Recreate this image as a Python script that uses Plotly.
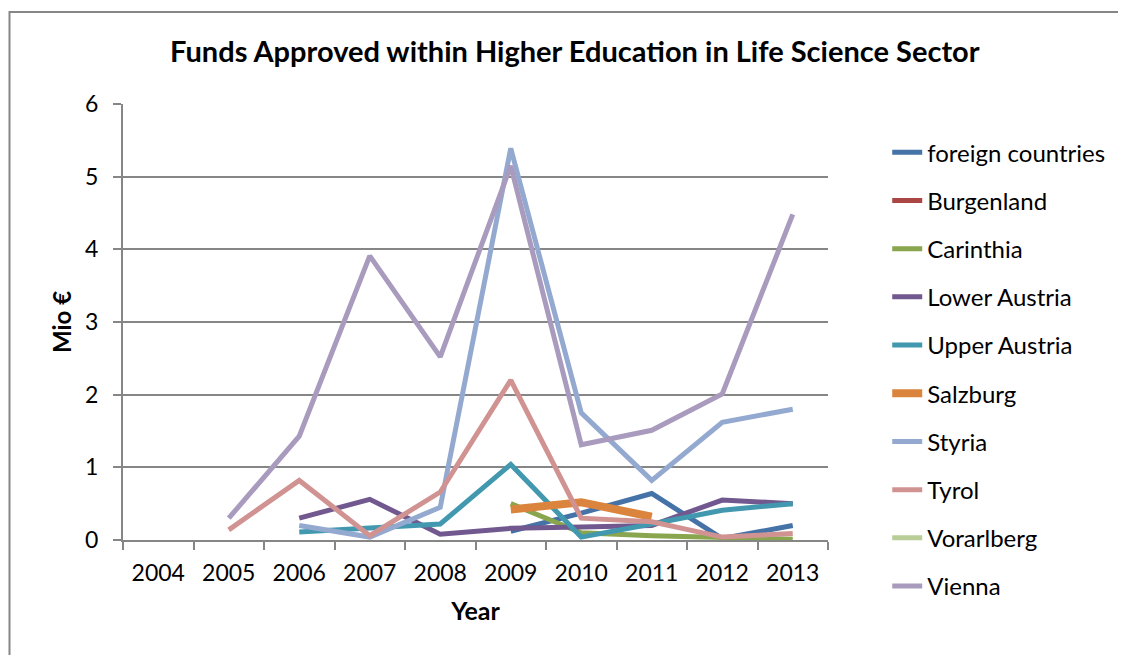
import plotly.graph_objects as go

years = ["2004", "2005", "2006", "2007", "2008", "2009", "2010", "2011", "2012", "2013"]

foreign_countries = [None, None, None, None, None, 0.12, 0.37, 0.64, 0.02, 0.20]
burgenland = [None] * 10
carinthia = [None, None, None, None, None, 0.50, 0.10, 0.06, 0.03, 0.01]
lower_austria = [None, None, 0.30, 0.56, 0.08, 0.16, 0.18, 0.20, 0.55, 0.50]
upper_austria = [None, None, 0.11, 0.17, 0.22, 1.04, 0.04, 0.22, 0.41, 0.50]
salzburg = [None, None, None, None, None, 0.42, 0.52, 0.32, None, None]
styria = [None, None, 0.20, 0.04, 0.45, 5.39, 1.75, 0.82, 1.62, 1.80]
tyrol = [None, 0.14, 0.82, 0.06, 0.66, 2.20, 0.30, 0.25, 0.04, 0.09]
vorarlberg = [None] * 10
vienna = [None, 0.30, 1.43, 3.91, 2.52, 5.15, 1.31, 1.51, 2.01, 4.48]

series = [
    ("foreign countries", foreign_countries, "#4572A7", 5),
    ("Burgenland", burgenland, "#AA4643", 5),
    ("Carinthia", carinthia, "#89A54E", 5),
    ("Lower Austria", lower_austria, "#71588F", 5),
    ("Upper Austria", upper_austria, "#4198AF", 5),
    ("Salzburg", salzburg, "#DB843D", 8),
    ("Styria", styria, "#93A9CF", 5),
    ("Tyrol", tyrol, "#D19392", 5),
    ("Vorarlberg", vorarlberg, "#B9CD96", 5),
    ("Vienna", vienna, "#A99BBD", 5),
]

font = "Lato, 'Open Sans', sans-serif"
grey = "#868686"

fig = go.Figure()
for i, (name, vals, color, w) in enumerate(series):
    fig.add_trace(
        go.Scatter(
            x=years,
            y=vals,
            mode="lines",
            name=name,
            legendgroup=f"g{i}",
            line=dict(color=color, width=w),
        )
    )

# page body has an 8px margin, so the figure is drawn 8px smaller
fig.update_layout(
    width=1118,
    height=647,
    paper_bgcolor="white",
    plot_bgcolor="white",
    font=dict(family=font, size=23, color="black"),
    margin=dict(l=115, r=298, t=96, b=115, autoexpand=False),
    title=dict(
        text="<b>Funds Approved within Higher Education in Life Science Sector</b>",
        font=dict(size=29),
        x=0.507,
        xanchor="center",
        y=0.932,
        yanchor="middle",
    ),
    xaxis=dict(
        type="category",
        range=[-0.5, 9.5],
        title=dict(text="<b>Year</b>", font=dict(size=25), standoff=18),
        tickfont=dict(size=23),
        showgrid=False,
        showline=True,
        linecolor=grey,
        linewidth=2,
        ticks="outside",
        tickson="boundaries",
        ticklen=8,
        tickcolor=grey,
        tickwidth=2,
        ticklabelstandoff=11,
    ),
    yaxis=dict(
        title=dict(text="<b>Mio €</b>", font=dict(size=24), standoff=7),
        tickfont=dict(size=23),
        range=[0, 6],
        dtick=1,
        showgrid=True,
        gridcolor=grey,
        gridwidth=2,
        showline=True,
        linecolor=grey,
        linewidth=2,
        ticks="outside",
        ticklen=8,
        tickcolor=grey,
        tickwidth=2,
        ticklabelstandoff=10,
        zeroline=False,
    ),
    legend=dict(
        x=1.084,
        y=0.94,
        xanchor="left",
        yanchor="top",
        font=dict(size=24),
        tracegroupgap=14,
        maxheight=620,
        bgcolor="rgba(0,0,0,0)",
    ),
    showlegend=True,
    shapes=[
        dict(
            type="rect",
            xref="paper",
            yref="paper",
            x0=-0.161,
            x1=1.43,
            y0=-0.3,
            y1=1.211,
            line=dict(color=grey, width=2),
            layer="below",
        )
    ],
)

fig.write_html("out.html")
